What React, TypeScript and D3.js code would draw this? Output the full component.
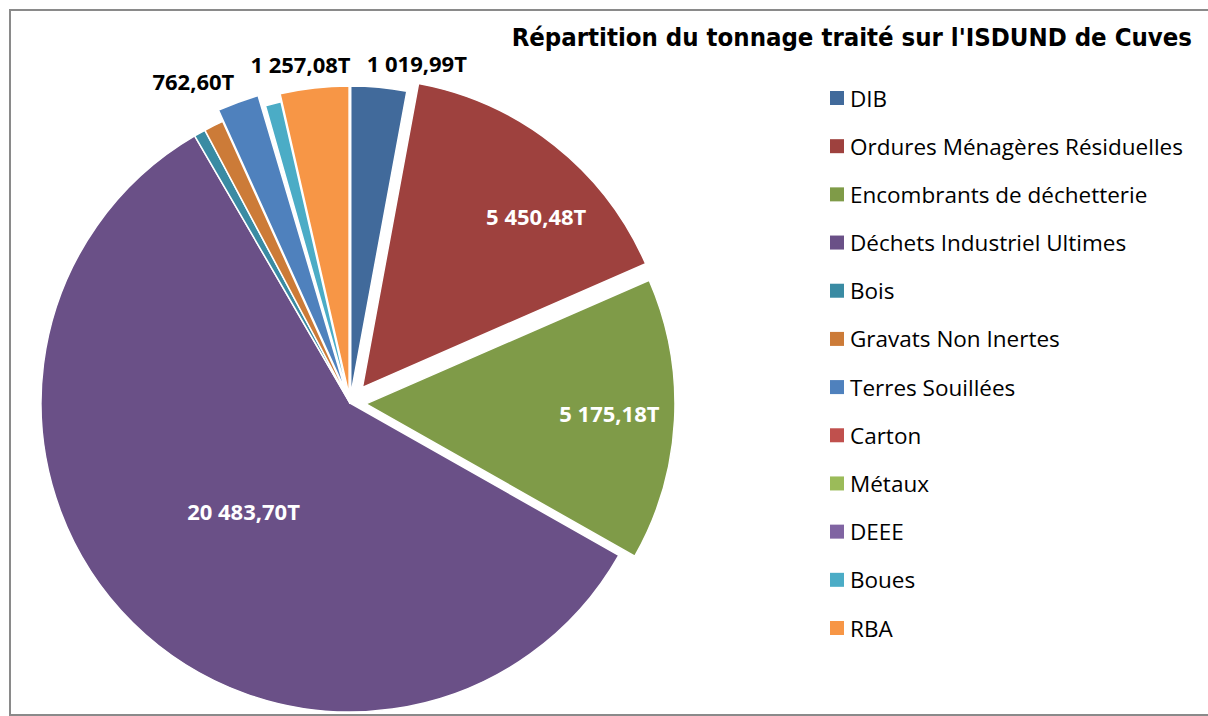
import React from "react";
import * as d3 from "d3";

const categories = [
  "DIB",
  "Ordures Ménagères Résiduelles",
  "Encombrants de déchetterie",
  "Déchets Industriel Ultimes",
  "Bois",
  "Gravats Non Inertes",
  "Terres Souillées",
  "Carton",
  "Métaux",
  "DEEE",
  "Boues",
  "RBA",
];
const tonnages = [1019.99, 5450.48, 5175.18, 20483.7, 210, 360, 762.6, 20, 25, 15, 290, 1257.08];
const colors = [
  "#416A9B", "#9E413E", "#7F9B48", "#6A5087", "#3A8BA3", "#CC7B38",
  "#4F81BD", "#C0504D", "#9BBB59", "#8064A2", "#4BACC6", "#F79646",
];
const title = "Répartition du tonnage traité sur l'ISDUND de Cuves";

// how far each slice is pulled out (px)
const explode: Record<string, number> = {
  DIB: 8,
  "Ordures Ménagères Résiduelles": 20,
  "Encombrants de déchetterie": 16,
  "Terres Souillées": 12,
  RBA: 8,
};
// data label placement: angle shift (deg) from bisector, radius factor, inside?
const labelPos: Record<string, { shift: number; k: number; inside: boolean }> = {
  DIB: { shift: 5.9, k: 1.12, inside: false },
  "Ordures Ménagères Résiduelles": { shift: 6.5, k: 0.853, inside: true },
  "Encombrants de déchetterie": { shift: -0.8, k: 0.84, inside: true },
  "Déchets Industriel Ultimes": { shift: 0, k: 0.49, inside: true },
  "Terres Souillées": { shift: -5.5, k: 1.16, inside: false },
  RBA: { shift: -1.85, k: 1.11, inside: false },
};

const W = 1208;
const H = 716;
const cx = 350;
const cy = 403;
const R = 309;

const fr = d3.formatLocale({ decimal: ",", thousands: " ", grouping: [3], currency: ["", ""] });
const fmt = (v: number) => fr.format(",.2f")(v) + "T";

export default function App() {
  const data = categories.map((c, i) => ({ name: c, value: tonnages[i], color: colors[i] }));
  const arcs = d3.pie<any>().sort(null).value((d) => d.value)(data);
  const arcGen = d3.arc<any>().innerRadius(0).outerRadius(R);

  const legendY = d3.scalePoint<string>().domain(categories).range([98, 628]);

  return (
    <svg width={W} height={H} style={{ position: "absolute", left: 0, top: 0, background: "#fff" }}>
      <rect x={10} y={10} width={W + 10} height={705} fill="#fff" stroke="#8a8a8a" strokeWidth={2} />
      <g transform={`translate(${cx},${cy})`}>
        {arcs.map((a, i) => {
          const mid = (a.startAngle + a.endAngle) / 2;
          const e = explode[a.data.name] || 0;
          const dx = Math.sin(mid) * e;
          const dy = -Math.cos(mid) * e;
          return (
            <path
              key={i}
              d={arcGen(a) || ""}
              transform={`translate(${dx},${dy})`}
              fill={a.data.color}
              stroke="#fff"
              strokeWidth={1.5}
              strokeLinejoin="round"
            />
          );
        })}
        {arcs.map((a, i) => {
          const lp = labelPos[a.data.name];
          if (!lp) return null;
          const mid = (a.startAngle + a.endAngle) / 2 + (lp.shift * Math.PI) / 180;
          const x = Math.sin(mid) * R * lp.k;
          const y = -Math.cos(mid) * R * lp.k;
          return (
            <text
              key={"l" + i}
              x={x}
              y={y}
              textAnchor="middle"
              dominantBaseline="central"
              fontFamily="'Open Sans', sans-serif"
              fontWeight="bold"
              fontSize={22}
              fill={lp.inside ? "#fff" : "#000"}
            >
              {fmt(a.data.value)}
            </text>
          );
        })}
      </g>
      <text
        x={1192}
        y={37}
        textAnchor="end"
        dominantBaseline="central"
        fontFamily="'DejaVu Sans Condensed', 'DejaVu Sans', sans-serif"
        fontWeight="bold"
        fontSize={25.5}
        fill="#000"
      >
        {title}
      </text>
      <g>
        {categories.map((c, i) => (
          <g key={c} transform={`translate(830,${legendY(c)})`}>
            <rect x={0} y={-7} width={14} height={14} fill={colors[i]} />
            <text
              x={20}
              y={0}
              dominantBaseline="central"
              fontFamily="'Open Sans', sans-serif"
              fontSize={22.5}
              fill="#000"
            >
              {c}
            </text>
          </g>
        ))}
      </g>
    </svg>
  );
}
